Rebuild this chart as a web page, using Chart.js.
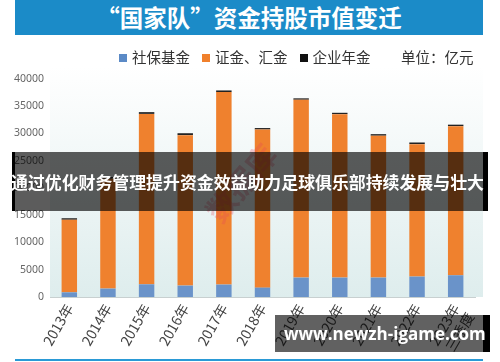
<!DOCTYPE html>
<html><head><meta charset="utf-8">
<script src="https://cdn.jsdelivr.net/npm/chart.js@4"></script>
<style>
html,body{margin:0;padding:0;background:#fff;}
#wrap{position:relative;width:500px;height:362px;overflow:hidden;font-family:"Noto Sans CJK SC","Noto Sans",sans-serif;}
canvas{position:absolute;left:0;top:0;}
.abs{position:absolute;white-space:nowrap;}
#title{left:15px;top:0;width:468px;height:35px;background:#1b8bc8;color:#fff;font-weight:bold;font-size:23.5px;line-height:35px;text-align:center;}
#legend{top:46px;left:119px;font-size:14.5px;color:#333;line-height:22px;}
#legend span.sq{display:inline-block;width:8px;height:8px;margin-right:5px;vertical-align:1px;}
#legend span.it{margin-right:12px;}
#unit{top:46px;left:401px;font-size:14.5px;color:#333;line-height:22px;}
#band{left:12px;top:152px;width:468px;height:59px;background:rgba(0,0,0,0.64);border-left:3px solid #000;}
#bandR{left:483px;top:152px;width:5px;height:59px;background:#000;}
#bandText{left:11px;top:152px;height:59px;line-height:59px;color:#fff;font-weight:bold;font-size:16.9px;}
#wm{left:275px;top:315px;width:208px;height:37px;background:rgba(0,0,0,0.62);}
#wmR{left:483px;top:315px;width:7px;height:37px;background:#000;}
#wmText{left:284px;top:315px;width:194px;text-align:center;line-height:37px;color:#fff;font-weight:bold;font-size:17px;font-family:"Open Sans","DejaVu Sans",sans-serif;}
#bottomLine{left:15px;top:359px;width:468px;height:2px;background:#2a9ad6;}
#stamp{left:195px;top:160px;color:rgba(230,70,90,0.28);font-size:30px;transform:rotate(-50deg);font-weight:bold;}
</style></head>
<body><div id="wrap">
<canvas id="c" width="500" height="362"></canvas>
<div class="abs" id="title">“国家队”资金持股市值变迁</div>
<div class="abs" id="legend"><span class="it"><span class="sq" style="background:#5b8ac6"></span>社保基金</span><span class="it"><span class="sq" style="background:#f0802c"></span>证金、汇金</span><span class="it"><span class="sq" style="background:#111"></span>企业年金</span></div>
<div class="abs" id="unit">单位：亿元</div>
<div class="abs" id="stamp">数据库</div>
<div class="abs" id="band"></div>
<div class="abs" id="bandR"></div>
<div class="abs" id="bandText">通过优化财务管理提升资金效益助力足球俱乐部持续发展与壮大</div>
<div class="abs" id="wm"></div>
<div class="abs" id="wmR"></div>
<div class="abs" id="wmText">www.newzh-igame.com</div>
<div class="abs" id="bottomLine"></div>
</div>
<script>
const categories = ['2013年','2014年','2015年','2016年','2017年','2018年','2019年','2020年','2021年','2022年',['2023年','三季度']];
const socialSecurity = [860, 1540, 2330, 2090, 2280, 1720, 3560, 3560, 3560, 3750, 3990];
const centralHuijin = [13320, 20160, 31270, 27610, 35320, 29020, 32640, 29990, 26040, 24300, 27360];
const enterpriseAnnuity = [270, 300, 320, 350, 300, 260, 250, 250, 280, 300, 270];
const yTicks = [0, 5000, 10000, 15000, 20000, 25000, 30000, 35000, 40000];

const bgPlugin = {
  id: 'bg',
  beforeDraw(chart) {
    const {ctx, chartArea} = chart;
    const top = 66, bottom = chartArea.bottom;
    const g = ctx.createLinearGradient(0, top, 0, bottom);
    g.addColorStop(0, '#ffffff');
    g.addColorStop(1, '#deeded');
    ctx.save();
    ctx.fillStyle = g;
    ctx.fillRect(chartArea.left, top, 483 - chartArea.left, bottom - top);
    ctx.restore();
  }
};

new Chart(document.getElementById('c'), {
  type: 'bar',
  data: {
    labels: categories,
    datasets: [
      {label: '社保基金', data: socialSecurity, backgroundColor: '#6a93c9'},
      {label: '证金、汇金', data: centralHuijin, backgroundColor: '#ef812e'},
      {label: '企业年金', data: enterpriseAnnuity, backgroundColor: '#222222'}
    ]
  },
  options: {
    responsive: false,
    animation: false,
    events: [],
    layout: {padding: {top: 79, right: 25, left: 0, bottom: 0}},
    plugins: {legend: {display: false}, title: {display: false}, tooltip: {enabled: false}},
    datasets: {bar: {categoryPercentage: 1, barPercentage: 0.4}},
    scales: {
      x: {
        stacked: true,
        grid: {display: false, drawTicks: false},
        border: {display: true, color: '#c8d0d0', width: 1},
        ticks: {minRotation: 60, maxRotation: 60, padding: 4, color: '#444', font: {size: 14, family: '"Noto Sans CJK SC","Noto Sans",sans-serif'}, autoSkip: false},
        afterFit(s) { s.height = 65; }
      },
      y: {
        stacked: true,
        min: 0, max: 40000,
        afterBuildTicks(s) { s.ticks = yTicks.map(v => ({value: v})); },
        grid: {display: false, drawTicks: false},
        border: {display: false},
        ticks: {padding: 6, color: '#666', font: {size: 10.5, family: '"Noto Sans","DejaVu Sans",sans-serif'}, callback: v => String(v)},
        afterFit(s) { s.width = 50; }
      }
    }
  },
  plugins: [bgPlugin]
});
</script>
</body></html>
